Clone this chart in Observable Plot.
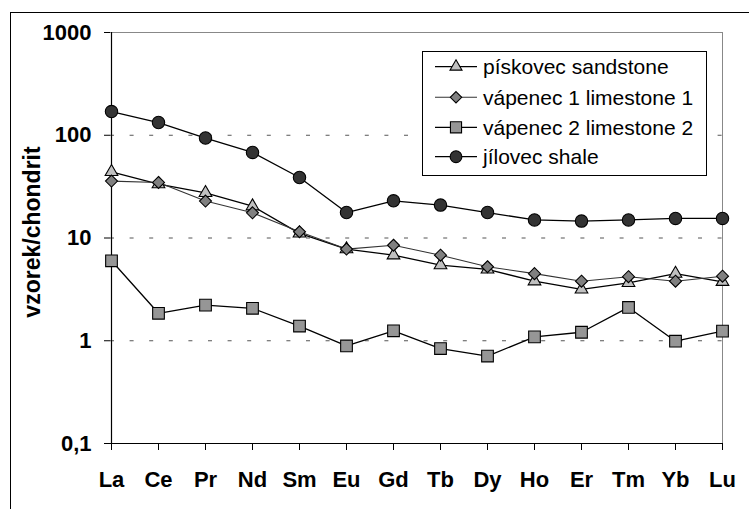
<!DOCTYPE html>
<html>
<head>
<meta charset="utf-8">
<script src="https://cdn.jsdelivr.net/npm/d3@7"></script>
<script src="https://cdn.jsdelivr.net/npm/@observablehq/plot@0.6"></script>
<style>
  html, body { margin: 0; padding: 0; background: #fff; overflow: hidden; }
  #wrap { position: relative; width: 749px; height: 509px; overflow: hidden; font-family: "Liberation Sans", Arial, sans-serif; }
  #frame { position: absolute; left: 10px; top: 12px; width: 800px; height: 600px; border: 1px solid #000; box-sizing: border-box; pointer-events: none; }
  #chart { position: absolute; left: 0; top: 0; }
  #legend { position: absolute; left: 0; top: 0; }
</style>
</head>
<body>
<div id="wrap">
  <div id="frame"></div>
  <div id="chart"></div>
  <svg id="legend" width="749" height="509"></svg>
</div>
<script>
const elements = ["La","Ce","Pr","Nd","Sm","Eu","Gd","Tb","Dy","Ho","Er","Tm","Yb","Lu"];
const sandstone  = [44, 33.5, 27.5, 20.4, 11.1, 7.8, 6.8, 5.45, 4.95, 3.8, 3.16, 3.66, 4.5, 3.75];
const limestone1 = [35.8, 34.7, 22.9, 17.6, 11.5, 7.8, 8.5, 6.8, 5.25, 4.5, 3.8, 4.2, 3.8, 4.25];
const limestone2 = [6.0, 1.85, 2.22, 2.07, 1.39, 0.89, 1.25, 0.84, 0.71, 1.09, 1.21, 2.11, 0.99, 1.24];
const shale      = [170, 133, 94, 68, 38.8, 17.7, 23, 20.9, 17.7, 15, 14.6, 15, 15.5, 15.5];
const seriesNames = ["pískovec sandstone", "vápenec 1 limestone 1", "vápenec 2 limestone 2", "jílovec shale"];
const yTicks = [0.1, 1, 10, 100, 1000];
const yTitle = "vzorek/chondrit";

const seriesStyle = [
  {values: sandstone,  symbol: "triangle", fill: "#c0c0c0", r: 4.7, line: "#000", lw: 1.3},
  {values: limestone1, symbol: "diamond2", fill: "#808080", r: 5.4, line: "#333", lw: 1.1},
  {values: limestone2, symbol: "square",   fill: "#969696", r: 6.6, line: "#000", lw: 1.3},
  {values: shale,      symbol: "circle",   fill: "#333333", r: 6.2, line: "#000", lw: 1.3}
];

const seriesMarks = [];
seriesStyle.forEach((s, i) => {
  const data = elements.map((e, j) => ({el: e, v: s.values[j]}));
  seriesMarks.push(Plot.line(data, {x: "el", y: "v", stroke: s.line, strokeWidth: s.lw}));
  seriesMarks.push(Plot.dot(data, {x: "el", y: "v", symbol: () => s.symbol, r: s.r, fill: s.fill, stroke: "#000", strokeWidth: 1.1}));
});

const chart = Plot.plot({
  width: 749,
  height: 509,
  marginLeft: 110,
  marginRight: 27,
  marginTop: 32,
  marginBottom: 66,
  style: {fontFamily: "'Liberation Sans', Arial, sans-serif", fontSize: "22px", fontWeight: "bold", color: "#000", background: "transparent", overflow: "visible"},
  x: {type: "point", domain: elements, padding: 0},
  y: {type: "log", domain: [0.1, 1000]},
  symbol: {type: "identity"},
  marks: [
    Plot.ruleY([100, 10, 1], {stroke: "#555", strokeWidth: 1, strokeDasharray: "4,15.6"}),
    Plot.ruleY([1000], {stroke: "#888", strokeWidth: 1}),
    Plot.ruleX([elements[elements.length - 1]], {stroke: "#888", strokeWidth: 1}),
    Plot.ruleX([elements[0]], {stroke: "#000", strokeWidth: 1.2}),
    Plot.ruleY([0.1], {stroke: "#000", strokeWidth: 1.2}),
    Plot.axisY({ticks: yTicks, tickFormat: d => String(d).replace(".", ","), tickSize: 6, tickPadding: 13, label: null, stroke: "#000"}),
    Plot.axisX({tickSize: 7, tickPadding: 21, label: null, stroke: "#000"}),
    Plot.text([yTitle], {frameAnchor: "left", textAnchor: "middle", rotate: -90, dx: -78, dy: -6, fontSize: 23, fontWeight: "bold", fill: "#000"}),
    ...seriesMarks
  ]
});
document.getElementById("chart").appendChild(chart);

// Legend
const leg = d3.select("#legend");
const lg = leg.append("g");
lg.append("rect").attr("x", 422.5).attr("y", 51.5).attr("width", 284).attr("height", 124)
  .attr("fill", "#fff").attr("stroke", "#000").attr("stroke-width", 1);
const rowY = [66.7, 97.3, 127.3, 156.7];
const symMap = {triangle: d3.symbolTriangle, diamond2: d3.symbolDiamond2, square: d3.symbolSquare, circle: d3.symbolCircle};
seriesStyle.forEach((s, i) => {
  const y = rowY[i];
  lg.append("line").attr("x1", 435).attr("x2", 477).attr("y1", y).attr("y2", y)
    .attr("stroke", s.line).attr("stroke-width", s.lw);
  lg.append("path").attr("d", d3.symbol(symMap[s.symbol], Math.PI * (s.r * 0.95) ** 2)())
    .attr("transform", `translate(456,${y})`).attr("fill", s.fill).attr("stroke", "#000").attr("stroke-width", 1.1);
  lg.append("text").attr("x", 483).attr("y", y).attr("dy", "0.36em")
    .attr("font-family", "'Liberation Sans', Arial, sans-serif").attr("font-size", 21)
    .attr("fill", "#000").text(seriesNames[i]);
});
</script>
</body>
</html>
